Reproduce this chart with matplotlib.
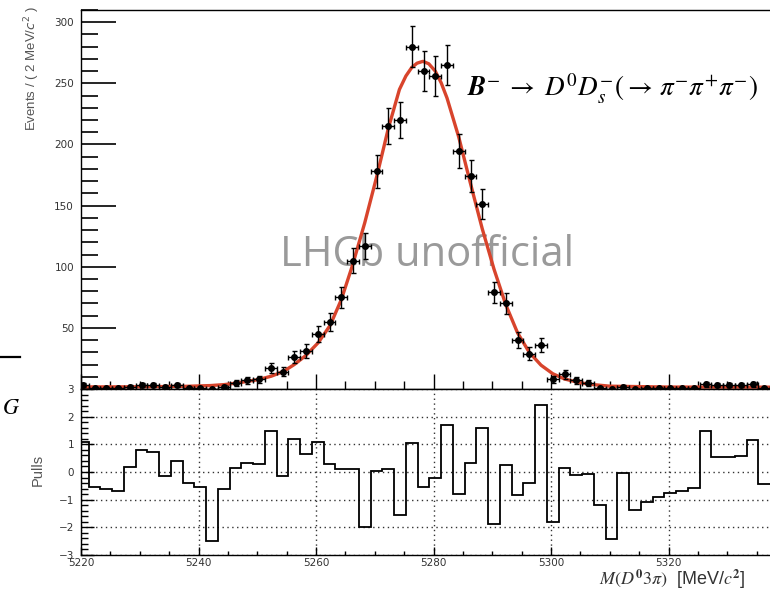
import numpy as np
import matplotlib
matplotlib.use('Agg')
import matplotlib.pyplot as plt
from matplotlib.ticker import MultipleLocator
from matplotlib.lines import Line2D

# binning: 2 MeV bins starting just left of 5220
bin_lo = 5219.3
bin_w = 2.0

# events per bin
counts = [3, 1, 1, 1, 2, 3, 3, 2, 3, 1,
          1, 0, 2, 5, 7, 8, 17, 14, 26, 31,
          45, 55, 75, 105, 117, 178, 215, 220, 280, 260,
          256, 265, 195, 174, 151, 79, 70, 40, 29, 36,
          8, 12, 7, 5, 1, 0, 2, 0, 1, 1,
          1, 1, 1, 4, 3, 3, 3, 4, 1, 1]

# pulls per bin
pulls = [1.07, -0.55, -0.6, -0.68, 0.17, 0.8, 0.72, -0.15, 0.38, -0.38,
         -0.55, -2.5, -0.63, 0.13, 0.33, 0.3, 1.5, -0.13, 1.2, 0.65,
         1.07, 0.3, 0.12, 0.1, -2.0, 0.05, 0.1, -1.55, 1.05, -0.55,
         -0.23, 1.7, -0.81, 0.34, 1.6, -1.88, 0.24, -0.84, -0.41, 2.42,
         -1.8, 0.16, -0.11, -0.08, -1.21, -2.41, -0.02, -1.37, -1.09, -0.9,
         -0.75, -0.67, -0.57, 1.47, 0.55, 0.56, 0.58, 1.16, -0.45, -0.45]

# fit curve
fit_x = [5220, 5230, 5238, 5242, 5244.4, 5246.4, 5248.3, 5250.3, 5252.4, 5254.4,
         5256.3, 5258.3, 5260.4, 5262.4, 5264.3, 5266.2, 5268.3, 5270.4, 5272.3, 5274.2,
         5275.3, 5276.3, 5277.2, 5278.2, 5279.2, 5280.3, 5281.3, 5282.3, 5284.3, 5286.3,
         5288.3, 5290.3, 5292.3, 5294.3, 5296.3, 5298.3, 5300.3, 5302.3, 5304.3, 5306.3,
         5310, 5320, 5340]
fit_y = [1.7, 1.8, 2.2, 2.8, 3.6, 4.8, 6.2, 7.8, 10.5, 14.2,
         20, 27.5, 38, 52, 73, 101, 136, 175, 213, 245,
         256, 263, 266.5, 268, 266, 260, 250.5, 238, 206, 168,
         131, 98, 69, 46, 30, 19.5, 12.5, 8.2, 5.8, 4.0,
         2.3, 1.6, 1.5]

top_yticks = [0, 50, 100, 150, 200, 250, 300]
top_ylabels = ['', '50', '100', '150', '200', '250', '300']
x_ticks = [5220, 5240, 5260, 5280, 5300, 5320]

edges = bin_lo + bin_w * np.arange(len(counts) + 1)
centers = edges[:-1] + bin_w / 2

W, H = 770, 590
fig = plt.figure(figsize=(W / 100, H / 100), dpi=100)
ax1 = fig.add_axes([81 / W, 1 - 389 / H, 705 / W, 379 / H])
ax2 = fig.add_axes([81 / W, 1 - 555 / H, 705 / W, 166 / H])

# --- top panel: data + fit
ax1.plot(fit_x, fit_y, color='#d8442c', lw=2.4, zorder=2)
ax1.errorbar(centers, counts, yerr=np.sqrt(counts), xerr=bin_w / 2, fmt='o', ms=4,
             color='black', elinewidth=1.0, capsize=1.8, capthick=1.0, zorder=3)
ax1.text(427 / W, 1 - 255 / H, 'LHCb unofficial', transform=fig.transFigure,
         ha='center', va='center', fontsize=30, color='#9a9a9a', family='Open Sans', zorder=1)

ax1.set_xlim(5220, 5340)
ax1.set_ylim(0, 310)
ax1.set_yticks(top_yticks, top_ylabels)
ax1.yaxis.set_minor_locator(MultipleLocator(10))
ax1.set_xticks(x_ticks)
ax1.xaxis.set_minor_locator(MultipleLocator(5))
ax1.tick_params(axis='y', which='major', direction='in', length=25, width=1.2,
                labelsize=7.5, pad=5, labelcolor='#333333')
ax1.tick_params(axis='y', which='minor', direction='in', length=12, width=1.2)
ax1.tick_params(axis='x', which='major', direction='in', length=11, width=1.0, labelbottom=False)
ax1.tick_params(axis='x', which='minor', direction='in', length=6, width=1.0)
for s in ax1.spines.values():
    s.set_linewidth(1.0)

# --- bottom panel: pulls
ax2.stairs(pulls, edges, baseline=None, color='black', lw=1.3, zorder=3)
ax2.set_xlim(5220, 5340)
ax2.set_ylim(-3, 3)
ax2.set_yticks([-3, -2, -1, 0, 1, 2, 3])
ax2.yaxis.set_minor_locator(MultipleLocator(0.2))
ax2.set_xticks(x_ticks)
ax2.xaxis.set_minor_locator(MultipleLocator(5))
ax2.grid(True, which='major', linestyle=(0, (1, 2.5)), color='#333333', lw=1.0)
ax2.tick_params(axis='y', which='major', direction='in', length=9, width=1.0,
                labelsize=7.5, pad=5, labelcolor='#333333')
ax2.tick_params(axis='y', which='minor', direction='in', length=5, width=1.0)
ax2.tick_params(axis='x', which='major', direction='in', length=6, width=1.0,
                labelsize=7.5, pad=2, labelcolor='#333333')
ax2.tick_params(axis='x', which='minor', direction='in', length=3, width=1.0)
for s in ax2.spines.values():
    s.set_linewidth(1.0)

# axis titles
fig.text(32 / W, 1 - 68 / H, 'Events / ( 2 MeV/$c^{2}$ )', rotation=90, ha='center',
         va='center', fontsize=9.5, color='#555555', family='Liberation Sans')
fig.text(38 / W, 1 - 470 / H, 'Pulls', rotation=90, ha='center', va='center',
         fontsize=10.5, color='#555555', family='Liberation Sans')
fig.text(745 / W, 1 - 585 / H, r'$M(D^{\mathbf{0}}3\pi)$  [MeV/$c^{\mathbf{2}}$]',
         ha='right', va='baseline', fontsize=13, color='#333333',
         family='Liberation Sans', math_fontfamily='stix')

# decay label
fig.text(467 / W, 1 - 97 / H,
         r'$\mathbfit{B}^{-}\;\rightarrow\;D^{0}D_{s}^{-}(\rightarrow\,\pi^{-}\pi^{+}\pi^{-})$',
         ha='left', va='baseline', fontsize=19.5, math_fontfamily='stix')

# bits of the neighbouring slide on the left edge
fig.add_artist(Line2D([0, 20 / W], [1 - 357 / H, 1 - 357 / H], transform=fig.transFigure,
                      color='black', lw=1.6))
fig.text(2 / W, 1 - 408 / H, r'$G$', ha='left', va='center', fontsize=16, math_fontfamily='stix')

fig.savefig('out.png', dpi=100)
